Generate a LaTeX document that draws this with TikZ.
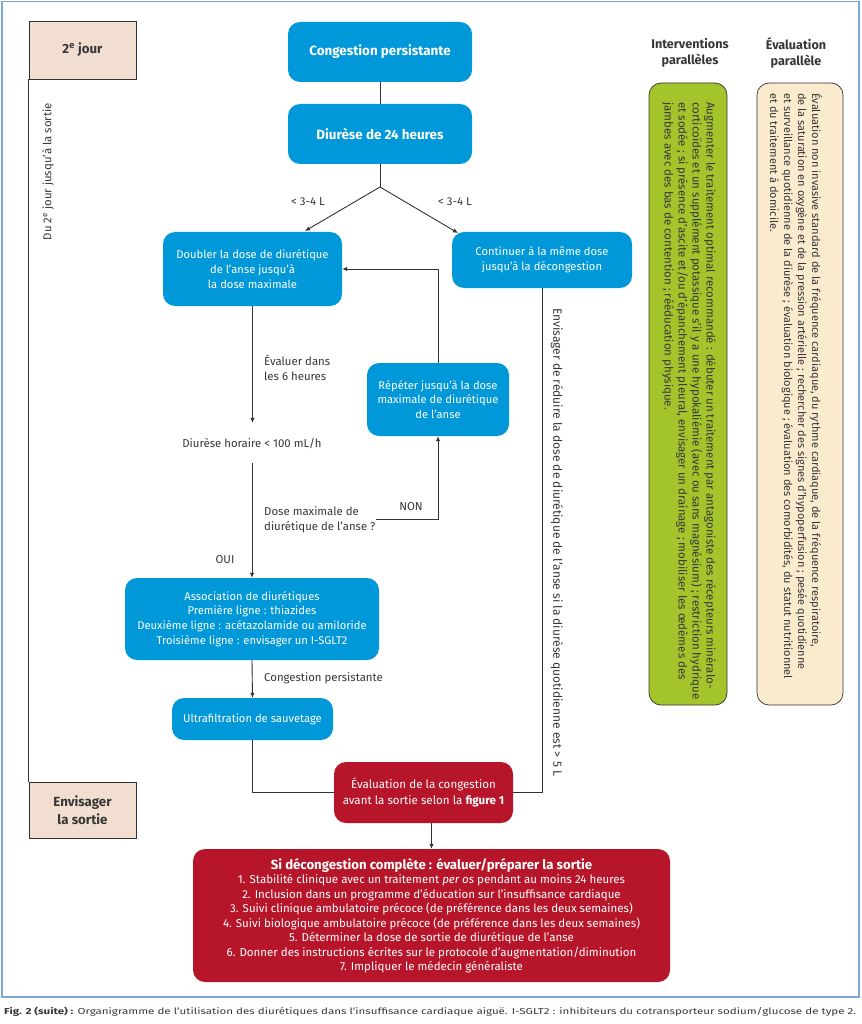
\documentclass[tikz,border=0pt]{standalone}
\usepackage{fontspec}
\setmainfont{Fira Sans}
\usetikzlibrary{arrows.meta,calc}
\definecolor{cblue}{RGB}{0,152,216}
\definecolor{cred}{RGB}{183,22,42}
\definecolor{cpeach}{RGB}{242,222,208}
\definecolor{cgreen}{RGB}{164,196,44}
\definecolor{cbeige}{RGB}{250,234,206}
\definecolor{cframe}{RGB}{125,165,215}
\definecolor{ctext}{RGB}{55,55,55}
\definecolor{cline}{RGB}{50,50,50}
\begin{document}
\begin{tikzpicture}[x=1pt,y=-1pt,
  bluebox/.style={fill=cblue, rounded corners=12pt, text=white, align=center, inner sep=0pt, font=\fontsize{11.2}{14.6}\selectfont},
  redbox/.style={fill=cred, rounded corners=12pt, text=white, align=center, inner sep=0pt, font=\fontsize{11.5}{14.5}\selectfont},
  daybox/.style={fill=cpeach, draw=cline, line width=0.9pt, text=ctext, align=center, inner sep=0pt, font=\fontsize{13.3}{17.5}\selectfont\bfseries, minimum width=107pt},
  sidebox/.style={draw=cline, line width=0.7pt, rounded corners=12pt, minimum width=78pt, minimum height=622pt},
  lbl/.style={text=ctext, align=left, inner sep=0pt, font=\fontsize{11.4}{14.8}\selectfont},
  vlbl/.style={text=ctext, align=left, inner sep=0pt, font=\fontsize{11.5}{14}\selectfont},
  hdr/.style={text=ctext, align=center, inner sep=0pt, font=\fontsize{12.6}{16}\selectfont\bfseries},
  conn/.style={draw=cline, line width=0.9pt},
  arr/.style={conn, -{Latex[length=5pt,width=4.5pt]}}]
\useasboundingbox (0,0) rectangle (861,1024);
\draw[cframe, line width=1.6pt] (2,1.5) rectangle (859,997);

% day boxes
\node[daybox, minimum height=58pt] (jour2) at (82.5,50) {2\textsuperscript{e} jour};
\node[daybox, minimum height=56pt] (envis) at (82.5,810) {Envisager\\la sortie};
\draw[conn] (jour2.south west) -- (envis.north west);
\node[lbl, rotate=90, anchor=east] (vl) at (48,103) {Du 2\textsuperscript{e} jour jusqu'à la sortie};

% main flow
\node[bluebox, minimum width=184pt, minimum height=60pt, font=\fontsize{13.4}{16}\selectfont\bfseries] (cong) at (380,52) {Congestion persistante};
\node[bluebox, minimum width=184pt, minimum height=60pt, font=\fontsize{13.4}{16}\selectfont\bfseries] (d24) at (380,134) {Diurèse de 24 heures};
\coordinate (split) at (380,187);
\node[bluebox, minimum width=179pt, minimum height=74pt] (doub) at (252.5,269) {Doubler la dose de diurétique\\de l'anse jusqu'à\\la dose maximale};
\node[bluebox, minimum width=180pt, minimum height=56pt] (cont) at (542,260) {Continuer à la même dose\\jusqu'à la décongestion};
\coordinate (la) at (305,231);
\coordinate (ra) at (458,233);
\node[lbl] (l1) at (308,202) {< 3-4 L};
\node[lbl] (l2) at (455,202) {< 3-4 L};
\node[bluebox, minimum width=142pt, minimum height=73pt] (rep) at (438,399.5) {Répéter jusqu'à la dose\\maximale de diurétique\\de l'anse};
\node[lbl, anchor=west] (ev6) at (264,368) {Évaluer dans\\les 6 heures};
\node[lbl, minimum height=40pt] (dh) at (252,443) {Diurèse horaire < 100 mL/h};
\node[lbl, anchor=west] (q) at (264,519.5) {Dose maximale de\\diurétique de l'anse ?};
\node[lbl] (non) at (411,507) {NON};
\node[lbl] (oui) at (225,560) {OUI};
\node[bluebox, minimum width=254pt, minimum height=82pt] (assoc) at (252,619) {Association de diurétiques\\Première ligne : thiazides\\Deuxième ligne : acétazolamide ou amiloride\\Troisième ligne : envisager un I-SGLT2};
\node[lbl, anchor=west] (cp) at (264,678) {Congestion persistante};
\node[bluebox, minimum width=161pt, minimum height=42pt] (ultra) at (252.5,719) {Ultrafiltration de sauvetage};
\node[redbox, minimum width=179pt, minimum height=61pt, font=\fontsize{11.6}{16}\selectfont] (eval) at (423.5,792.5) {Évaluation de la congestion\\avant la sortie selon la \textbf{figure 1}};
\node[redbox, minimum width=477pt, minimum height=133pt] (big) at (431.5,915.5) {{\fontsize{13.2}{14.5}\selectfont\bfseries Si décongestion complète : évaluer/préparer la sortie}\\
1. Stabilité clinique avec un traitement \textit{per os} pendant au moins 24 heures\\
2. Inclusion dans un programme d'éducation sur l'insuffisance cardiaque\\
3. Suivi clinique ambulatoire précoce (de préférence dans les deux semaines)\\
4. Suivi biologique ambulatoire précoce (de préférence dans les deux semaines)\\
5. Déterminer la dose de sortie de diurétique de l'anse\\
6. Donner des instructions écrites sur le protocole d'augmentation/diminution\\
7. Impliquer le médecin généraliste};
\node[vlbl, rotate=-90, anchor=west, font=\fontsize{12}{14}\selectfont] (red5) at (557,308) {Envisager de réduire la dose de diurétique de l'anse si la diurèse quotidienne est > 5 L};

% connectors
\draw[conn] (cong) -- (d24);
\draw[conn] (d24) -- (split);
\draw[arr] (split) -- (la);
\draw[arr] (split) -- (ra);
\draw[arr] (doub.south) -- (doub.south |- dh.north);
\draw[arr] (dh.south) -- (assoc.north);
\draw[arr] (rep.north) |- (doub.east);
\draw[arr] (q.east |- 0,519) -| (rep.south);
\draw[arr] (assoc.south) -- (ultra.north);
\draw[conn] (ultra.south) |- (eval.west);
\draw[conn] (cont.south) |- (eval.east);
\draw[arr] (eval.south -| big.north) -- (big.north);

% side columns
\node[hdr] (h1) at (690,53) {Interventions\\parallèles};
\node[hdr] (h2) at (796,53) {Évaluation\\parallèle};
\node[sidebox, fill=cgreen] (gbox) at (688,394) {};
\node[sidebox, fill=cbeige, minimum width=86pt] (bbox) at (800,394) {};
\node[vlbl, rotate=-90, anchor=west] (gtxt) at (689,102) {Augmenter le traitement optimal recommandé : débuter un traitement par antagoniste des récepteurs minéralo-\\corticoïdes et un supplément potassique s'il y a une hypokaliémie (avec ou sans magnésium) ; restriction hydrique\\et sodée ; si présence d'ascite et/ou d'épanchement pleural, envisager un drainage ; mobiliser les œdèmes des\\jambes avec des bas de contention ; rééducation physique.};
\node[vlbl, rotate=-90, anchor=west, font=\fontsize{11}{14}\selectfont] (btxt) at (796,93) {Évaluation non invasive standard de la fréquence cardiaque, du rythme cardiaque, de la fréquence respiratoire,\\de la saturation en oxygène et de la pression artérielle ; rechercher des signes d'hypoperfusion ; pesée quotidienne\\et surveillance quotidienne de la diurèse ; évaluation biologique ; évaluation des comorbidités, du statut nutritionnel\\et du traitement à domicile.};

% caption
\node[anchor=west, inner sep=0pt, text=ctext] (cap) at (4,1012) {\resizebox{852pt}{7.5pt}{\textbf{Fig. 2 (suite) :} Organigramme de l'utilisation des diurétiques dans l'insuffisance cardiaque aiguë. I-SGLT2 : inhibiteurs du cotransporteur sodium/glucose de type 2.}};
\end{tikzpicture}
\end{document}
